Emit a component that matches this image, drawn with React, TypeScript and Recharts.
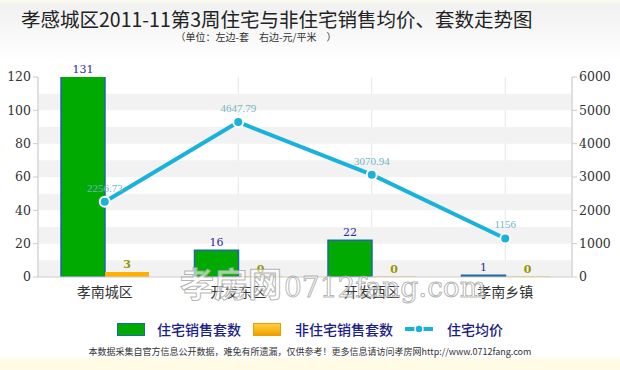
import React from 'react';
import {
  ComposedChart,
  Bar,
  Line,
  XAxis,
  YAxis,
  CartesianGrid,
  ReferenceArea,
  LabelList,
} from 'recharts';

const categories = ['孝南城区', '开发东区', '开发西区', '孝南乡镇'];
const residentialCount = [131, 16, 22, 1];
const nonResidentialCount = [3, 0, 0, 0];
const residentialPrice = [2256.73, 4647.79, 3070.94, 1156];
const leftTicks = [0, 20, 40, 60, 80, 100, 120];
const rightTicks = [0, 1000, 2000, 3000, 4000, 5000, 6000];
const shadedBands = [[0, 10], [20, 30], [40, 50], [60, 70], [80, 90], [100, 110]];

const data = categories.map((name, i) => ({
  name,
  res: residentialCount[i],
  nonRes: nonResidentialCount[i],
  price: residentialPrice[i],
}));

const PLOT_TOP = 77;
const GREEN = '#00aa00';
const ORANGE = '#ffb000';
const CYAN = '#1ab2da';
const SERIF = "'DejaVu Serif', serif";
const CJK = "'Noto Sans CJK SC', sans-serif";

const barTopLabel = (color: string, weight: number) => (props: any) => {
  const vb = props.viewBox || {};
  const x = props.x ?? vb.x;
  const y = props.y ?? vb.y;
  const width = props.width ?? vb.width;
  const top = Math.max(y, PLOT_TOP);
  return (
    <text
      x={x + width / 2}
      y={top - 4}
      textAnchor="middle"
      fill={color}
      fontSize={11}
      fontWeight={weight}
      fontFamily={SERIF}
    >
      {props.value}
    </text>
  );
};

const ChartLegend = () => (
  <div
    style={{
      position: 'absolute',
      left: 0,
      top: 319,
      width: 620,
      display: 'flex',
      justifyContent: 'center',
      alignItems: 'center',
      fontFamily: CJK,
      fontSize: 14,
      color: '#1c1c86',
      fontWeight: 500,
      lineHeight: '20px',
    }}
  >
    <span style={{ width: 26, height: 11, background: GREEN, border: '1px solid #2266aa', marginRight: 12 }} />
    <span style={{ marginRight: 12 }}>住宅销售套数</span>
    <span
      style={{
        width: 26,
        height: 11,
        background: 'linear-gradient(#ffd040, #f0a000)',
        border: '1px solid #e8a000',
        marginRight: 14,
      }}
    />
    <span style={{ marginRight: 12 }}>非住宅销售套数</span>
    <svg width={28} height={12} style={{ marginRight: 14 }}>
      <line x1={0} y1={6} x2={28} y2={6} stroke={CYAN} strokeWidth={4} />
      <circle cx={14} cy={6} r={4} fill={CYAN} stroke="#fff" strokeWidth={1.5} />
    </svg>
    <span>住宅均价</span>
  </div>
);

export default function App() {
  return (
    <div
      style={{
        position: 'absolute',
        left: 0,
        top: 0,
        width: 620,
        height: 370,
        overflow: 'hidden',
        background: 'linear-gradient(#fbfbee 0px, #f1f1f1 6px, #ffffff 62px, #ffffff 356px, #fffbe4 360px)',
      }}
    >
      <div
        style={{
          position: 'absolute',
          left: 21,
          top: 5,
          width: 482,
          textAlign: 'center',
          fontFamily: CJK,
          fontSize: 19.5,
          color: '#222',
          whiteSpace: 'nowrap',
          lineHeight: '28px',
        }}
      >
        孝感城区2011-11第3周住宅与非住宅销售均价、套数走势图
      </div>
      <div
        style={{
          position: 'absolute',
          left: 170,
          top: 31,
          width: 172,
          textAlign: 'center',
          fontFamily: CJK,
          fontSize: 10,
          color: '#333',
          whiteSpace: 'pre',
          lineHeight: '12px',
        }}
      >
        （单位：左边-套　右边-元/平米　）
      </div>

      <ComposedChart
        width={620}
        height={370}
        data={data}
        margin={{ top: PLOT_TOP, right: 0, left: 0, bottom: 63 }}
        barGap={0}
        barCategoryGap="17%"
      >
        {shadedBands.map(([a, b]) => (
          <ReferenceArea
            key={a}
            yAxisId="left"
            y1={a}
            y2={b}
            fill="#f2f2f2"
            fillOpacity={1}
            stroke="none"
          />
        ))}
        <CartesianGrid stroke="#e6e6e6" horizontal={false} vertical={true} />
        <XAxis
          dataKey="name"
          height={30}
          axisLine={{ stroke: '#cccccc' }}
          tickLine={false}
          tick={{ fontSize: 14, fill: '#333', fontFamily: CJK }}
          tickMargin={4}
        />
        <YAxis
          yAxisId="left"
          width={38}
          domain={[0, 120]}
          ticks={leftTicks}
          allowDataOverflow
          axisLine={{ stroke: '#cccccc' }}
          tickLine={{ stroke: '#cccccc' }}
          tickSize={5}
          tick={{ fontSize: 12.5, fill: '#333', fontFamily: SERIF }}
        />
        <YAxis
          yAxisId="right"
          orientation="right"
          width={48}
          domain={[0, 6000]}
          ticks={rightTicks}
          axisLine={{ stroke: '#cccccc' }}
          tickLine={{ stroke: '#cccccc' }}
          tickSize={5}
          tick={{ fontSize: 12.5, fill: '#333', fontFamily: SERIF }}
        />
        <Bar
          yAxisId="left"
          dataKey="res"
          name="住宅销售套数"
          fill={GREEN}
          stroke="#2266aa"
          strokeWidth={1.5}
          barSize={44}
          isAnimationActive={false}
        >
          <LabelList dataKey="res" content={barTopLabel('#2c2c9a', 400)} />
        </Bar>
        <Bar
          yAxisId="left"
          dataKey="nonRes"
          name="非住宅销售套数"
          fill={ORANGE}
          stroke="none"
          barSize={44}
          minPointSize={0.5}
          isAnimationActive={false}
        >
          <LabelList dataKey="nonRes" content={barTopLabel('#9a9400', 700)} />
        </Bar>
        <Line
          yAxisId="right"
          dataKey="price"
          name="住宅均价"
          type="linear"
          stroke={CYAN}
          strokeWidth={4}
          dot={{ r: 5, fill: CYAN, stroke: '#ffffff', strokeWidth: 2 }}
          isAnimationActive={false}
        >
          <LabelList
            dataKey="price"
            position="top"
            offset={10}
            fill="#72b6c2"
            fontSize={11}
            fontFamily="'Liberation Serif', serif"
          />
        </Line>
      </ComposedChart>

      <ChartLegend />

      <div
        style={{
          position: 'absolute',
          left: 0,
          top: 345,
          width: 620,
          textAlign: 'center',
          fontFamily: CJK,
          fontSize: 9,
          color: '#333',
          whiteSpace: 'nowrap',
        }}
      >
        本数据采集自官方信息公开数据，难免有所遗漏，仅供参考！更多信息请访问孝房网http://www.0712fang.com
      </div>

      <div
        style={{
          position: 'absolute',
          left: 180,
          top: 258,
          fontFamily: CJK,
          fontSize: 34,
          fontWeight: 700,
          color: 'rgba(255,255,255,0.6)',
          WebkitTextStroke: '1px rgba(150,150,150,0.7)',
          whiteSpace: 'nowrap',
          pointerEvents: 'none',
        }}
      >
        孝房网
        <span style={{ fontFamily: SERIF, fontSize: 28, fontWeight: 400, marginLeft: 2 }}>0712fang.com</span>
      </div>
    </div>
  );
}
